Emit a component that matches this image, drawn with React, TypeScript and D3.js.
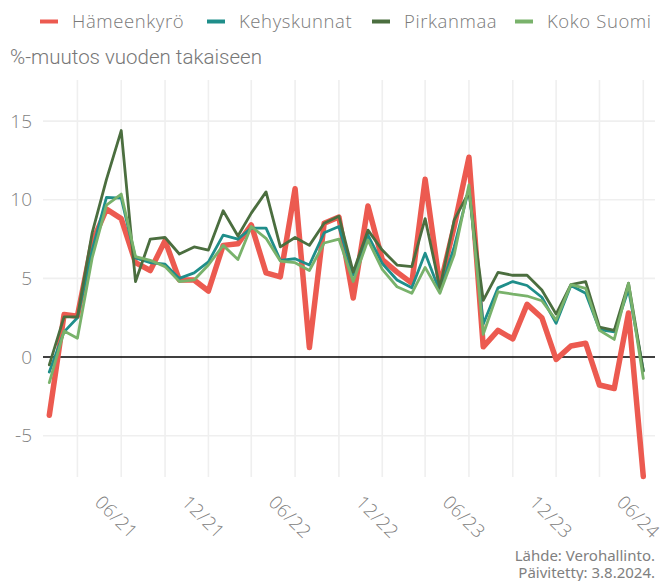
import React from "react";
import * as d3 from "d3";

const startYear = 2021;
const monthCount = 42;
const months: Date[] = Array.from({ length: monthCount }, (_, i) => new Date(startYear, i, 1));

const hameenkyro = [-3.7, 2.7, 2.6, 7.3, 9.4, 8.8, 6.0, 5.5, 7.4, 4.9, 4.9, 4.2, 7.1, 7.2, 8.4, 5.35, 5.1, 10.7, 0.6, 8.5, 8.9, 3.75, 9.6, 6.2, 5.4, 4.7, 11.3, 4.5, 8.3, 12.7, 0.65, 1.7, 1.15, 3.35, 2.5, -0.15, 0.7, 0.88, -1.78, -2.0, 2.8, -7.6];
const kehyskunnat = [-0.95, 1.6, 2.5, 6.8, 10.15, 10.1, 6.3, 6.0, 5.9, 5.0, 5.35, 6.05, 7.75, 7.5, 8.2, 8.2, 6.15, 6.25, 5.85, 7.9, 8.3, 5.2, 7.75, 5.95, 4.9, 4.4, 6.6, 4.15, 7.0, 10.7, 2.1, 4.4, 4.8, 4.55, 3.8, 2.15, 4.55, 4.05, 1.75, 1.6, 4.3, -0.85];
const pirkanmaa = [-0.5, 2.55, 2.55, 7.9, 11.3, 14.4, 4.8, 7.5, 7.6, 6.55, 7.0, 6.8, 9.3, 7.7, 9.15, 10.5, 7.0, 7.6, 7.1, 8.5, 8.95, 5.4, 8.07, 6.8, 5.85, 5.75, 8.8, 4.4, 8.7, 10.5, 3.6, 5.38, 5.2, 5.2, 4.26, 2.73, 4.6, 4.8, 1.9, 1.7, 4.7, -0.9];
const kokoSuomi = [-1.63, 1.65, 1.2, 6.3, 9.66, 10.36, 6.38, 6.15, 5.75, 4.8, 4.9, 5.85, 7.1, 6.2, 8.3, 7.55, 6.1, 6.0, 5.5, 7.25, 7.5, 4.8, 7.44, 5.57, 4.47, 4.05, 5.7, 4.05, 6.5, 10.95, 1.45, 4.15, 4.0, 3.88, 3.58, 2.35, 4.6, 4.37, 1.7, 1.12, 4.68, -1.36];

const seriesNames = ["Hämeenkyrö", "Kehyskunnat", "Pirkanmaa", "Koko Suomi"];
const seriesValues = [hameenkyro, kehyskunnat, pirkanmaa, kokoSuomi];
const seriesColors = ["#EC5A50", "#1F8E8A", "#4B6E3F", "#79B26B"];
const seriesWidths = [5.5, 2.8, 2.8, 2.8];

const yTicks = [-5, 0, 5, 10, 15];
const xTickLabels = ["06/21", "12/21", "06/22", "12/22", "06/23", "12/23", "06/24"];
const xTickDates = [new Date(2021, 5, 1), new Date(2021, 11, 1), new Date(2022, 5, 1), new Date(2022, 11, 1), new Date(2023, 5, 1), new Date(2023, 11, 1), new Date(2024, 5, 1)];
const gridDates = Array.from({ length: 14 }, (_, i) => new Date(2021, 2 + i * 3, 1));

const legendX = [40, 207, 372, 515];

export default function App() {
  const W = 662, H = 581;
  const left = 43, right = 655, top = 80, bottom = 477;
  const x = d3.scaleTime().domain([months[0], months[monthCount - 1]]).range([49.3, 643.3]);
  const y = d3.scaleLinear().domain([-5, 15]).range([435.7, 121.1]);
  const line = d3.line<number>().x((_, i) => x(months[i])).y((v) => y(v));
  const font = "'Open Sans', Lato, sans-serif";

  return (
    <svg width={W} height={H} style={{ position: "absolute", left: 0, top: 0 }}>
      <rect width={W} height={H} fill="#fff" />
      {seriesNames.map((n, i) => (
        <g key={n}>
          <line x1={legendX[i]} x2={legendX[i] + 18} y1={21.5} y2={21.5} stroke={seriesColors[i]} strokeWidth={4} />
          <text x={legendX[i] + 32} y={28} fontSize={18.5} fill="#7a7a7a" fontFamily={font} fontWeight={300} letterSpacing={0.6}>{n}</text>
        </g>
      ))}
      <text x={10} y={64} fontSize={20.5} fill="#777777" fontFamily="Roboto, 'Liberation Sans', sans-serif" fontWeight={300}>%-muutos vuoden takaiseen</text>
      {gridDates.map((d, i) => (
        <line key={i} x1={x(d)} x2={x(d)} y1={top} y2={bottom} stroke="#efefef" strokeWidth={1.6} />
      ))}
      {yTicks.filter((t) => t !== 0).map((t) => (
        <line key={t} x1={left} x2={right} y1={y(t)} y2={y(t)} stroke="#efefef" strokeWidth={1.6} />
      ))}
      <line x1={left} x2={right} y1={y(0)} y2={y(0)} stroke="#000" strokeWidth={1.4} />
      {yTicks.map((t) => (
        <text key={t} x={32} y={y(t) + 6.5} textAnchor="end" fontSize={19} fill="#7f7f7f" fontFamily={font} fontWeight={300}>{t}</text>
      ))}
      {xTickDates.map((d, i) => {
        const cx = x(d) - 6, cy = 518;
        return (
          <text key={i} x={cx} y={cy} transform={`rotate(45 ${cx} ${cy})`} textAnchor="middle" dominantBaseline="middle" fontSize={18.5} fill="#7f7f7f" fontFamily={font} fontWeight={300} letterSpacing={0.5}>{xTickLabels[i]}</text>
        );
      })}
      {seriesValues.map((vals, i) => (
        <path key={i} d={line(vals) || ""} fill="none" stroke={seriesColors[i]} strokeWidth={seriesWidths[i]} strokeLinejoin="round" strokeLinecap="round" />
      ))}
      <text x={655} y={560.5} textAnchor="end" fontSize={15} fill="#808080" fontFamily="'Noto Sans', sans-serif">Lähde: Verohallinto.</text>
      <text x={655} y={578} textAnchor="end" fontSize={15} fill="#808080" fontFamily="'Noto Sans', sans-serif">Päivitetty: 3.8.2024.</text>
    </svg>
  );
}
